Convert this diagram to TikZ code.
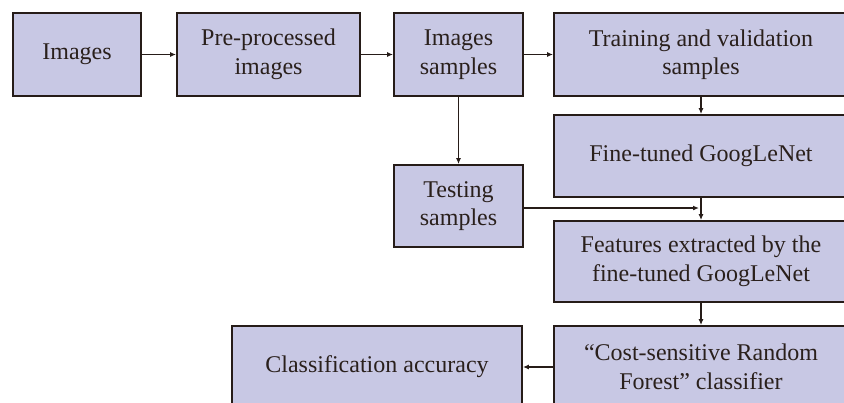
\documentclass[tikz,border=0pt]{standalone}
\usepackage{fontspec}
\setmainfont{Liberation Serif}
\usetikzlibrary{arrows.meta}

\begin{document}
\begin{tikzpicture}[x=1pt, y=-1pt,
  box/.style={draw=boxline, fill=boxfill, line width=1.8pt, align=center,
    text=boxtext, inner sep=0pt, font=\fontsize{24}{28.5}\selectfont},
  link/.style={draw=boxline, line width=1.5pt, -{Latex[length=6pt,width=5pt]}}]

  % Define custom colors
  \definecolor{boxfill}{RGB}{200, 200, 228}
  \definecolor{boxline}{RGB}{38, 28, 24}
  \definecolor{boxtext}{RGB}{42, 32, 28}
  % Page area
  \path[use as bounding box, clip] (0,0) rectangle (844,402);
  % Top row
  \node[box, minimum width=128, minimum height=83] (images) at (77,54.5) {Images};
  \node[box, minimum width=183, minimum height=83] (preproc) at (268.5,54.5) {Pre-processed\\images};
  \node[box, minimum width=129, minimum height=83] (samples) at (458.5,54.5) {Images\\samples};
  \node[box, minimum width=294, minimum height=83] (training) at (701,54.5) {Training and validation\\samples};
  % Right column
  \node[box, minimum width=294, minimum height=82] (googlenet) at (701,156) {Fine-tuned GoogLeNet};
  \node[box, minimum width=294, minimum height=81] (features) at (701,261.5) {Features extracted by the\\fine-tuned GoogLeNet};
  \node[box, minimum width=294, minimum height=82] (classifier) at (701,367) {``Cost-sensitive Random\\Forest'' classifier};
  % Left side
  \node[box, minimum width=129, minimum height=82] (testing) at (458.5,206) {Testing\\samples};
  \node[box, minimum width=290, minimum height=82] (accuracy) at (377,367) {Classification accuracy};
  % Joining point of the testing samples
  \coordinate (join) at (699,208);
  % Arrows
  \draw[link] (images) -- (preproc);
  \draw[link] (preproc) -- (samples);
  \draw[link] (samples) -- (training);
  \draw[link] (training) -- (googlenet);
  \draw[link] (samples) -- (testing);
  \draw[link] (googlenet) -- (features);
  \draw[link] (testing.east |- join) -- (join);
  \draw[link] (features) -- (classifier);
  \draw[link] (classifier) -- (accuracy);

\end{tikzpicture}
\end{document}
